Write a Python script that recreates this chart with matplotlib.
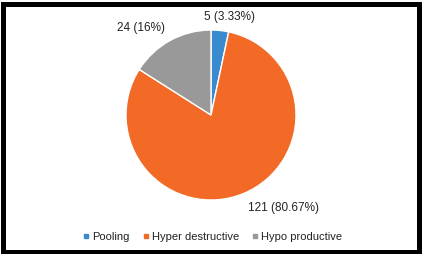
import matplotlib.pyplot as plt
from matplotlib.lines import Line2D
from matplotlib.patches import Rectangle
import numpy as np

categories = ['Pooling', 'Hyper destructive', 'Hypo productive']
counts = [5, 121, 24]
percent_text = ['3.33%', '80.67%', '16%']
colors = ['#3A8AD0', '#F26A26', '#999999']

W, H = 424, 254
fig = plt.figure(figsize=(W / 100, H / 100), dpi=100)
plt.rcParams['font.family'] = ['Liberation Sans', 'DejaVu Sans']

# pie centre (211, 115) px from top-left, radius 85 px
cx, cy, r = 211, 115, 85
ax = fig.add_axes([(cx - r) / W, (H - cy - r) / H, 2 * r / W, 2 * r / H])
wedges, texts = ax.pie(counts, colors=colors, startangle=90, counterclock=False,
                       wedgeprops=dict(edgecolor='white', linewidth=1.0),
                       labels=['{} ({})'.format(c, p) for c, p in zip(counts, percent_text)],
                       labeldistance=1.2, textprops=dict(fontsize=8.5, color='#222222'))
ax.set_xlim(-1, 1)
ax.set_ylim(-1, 1)

# nudge labels to where the original places them (angle shift in deg, distance)
label_adjust = [(-5, 1.17), (15, 1.39), (10, 1.31)]
for w, t, (shift, dist) in zip(wedges, texts, label_adjust):
    ang = np.deg2rad((w.theta1 + w.theta2) / 2 + shift)
    t.set_position((dist * np.cos(ang), dist * np.sin(ang)))
    t.set_ha('center')
    t.set_va('center')

handles = [Line2D([], [], marker='s', linestyle='', markersize=3.5,
                  markerfacecolor=c, markeredgecolor=c) for c in colors]
fig.legend(handles, categories, loc='center', bbox_to_anchor=(213 / W, 1 - 237 / H),
           ncol=3, frameon=False, fontsize=8, handlelength=0.5, handletextpad=0.3,
           columnspacing=1.2, labelcolor='#222222')

fig.patches.append(Rectangle((2.5 / W, 2.5 / H), 416 / W, 248 / H, transform=fig.transFigure,
                             fill=False, edgecolor='black', linewidth=3.6))

fig.savefig('out.png', dpi=100)
